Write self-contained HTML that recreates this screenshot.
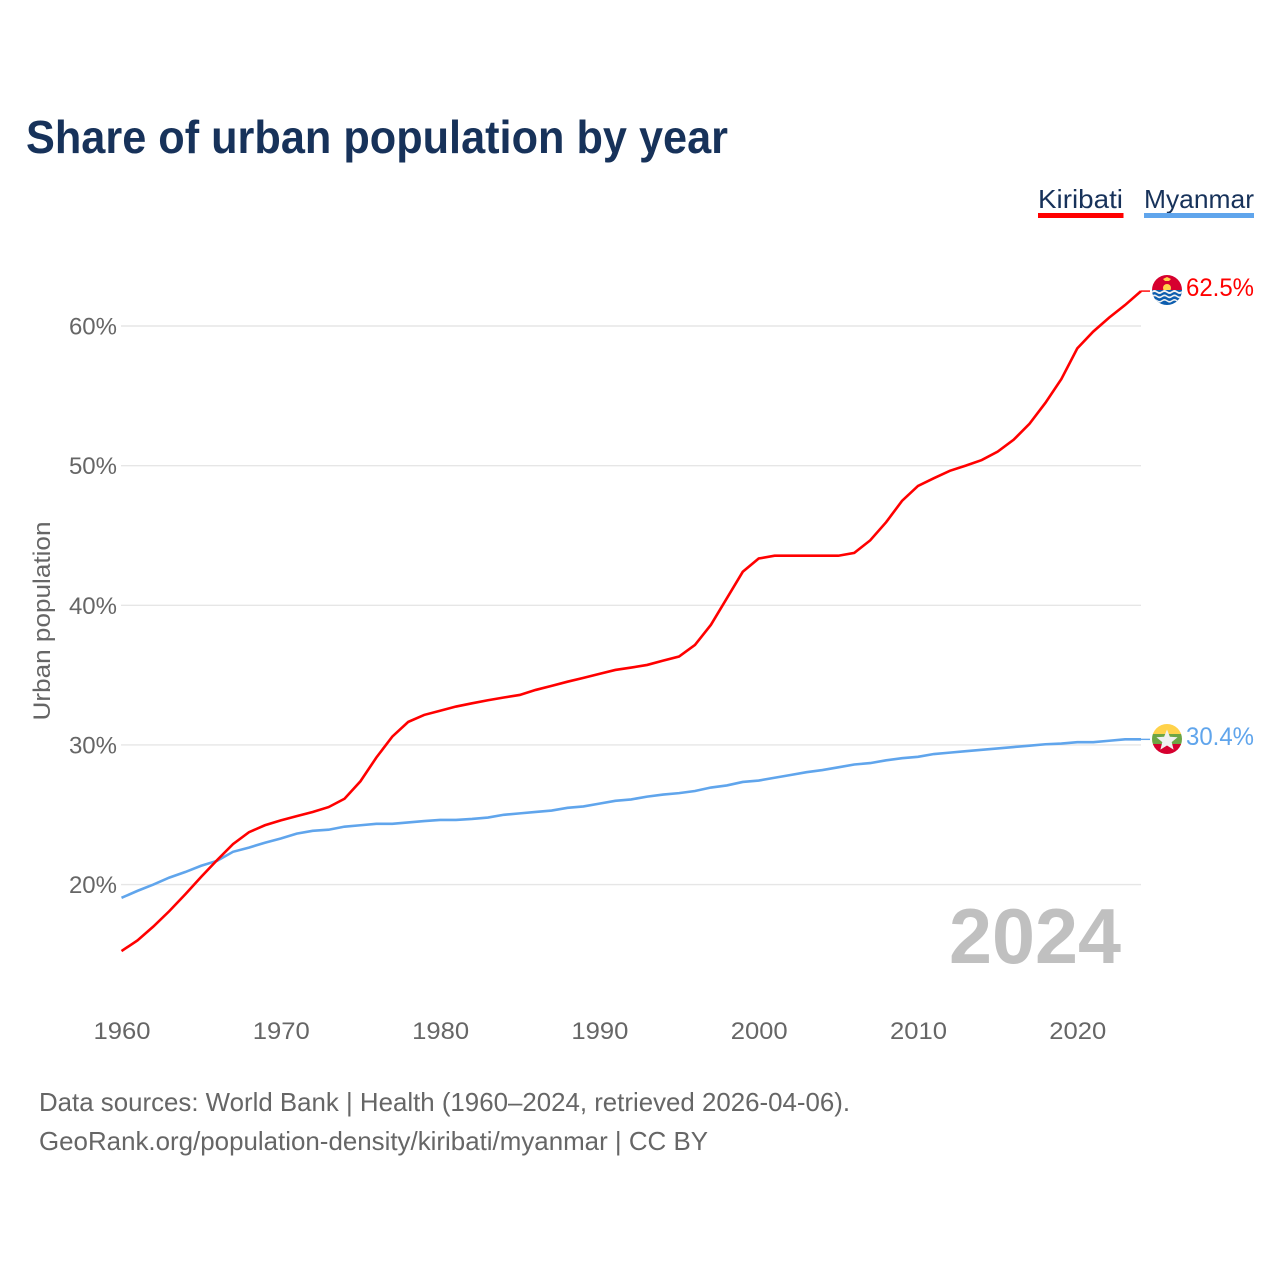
<!DOCTYPE html>
<html lang="en">
<head>
<meta charset="utf-8">
<title>Share of urban population by year</title>
<style>
html,body{margin:0;padding:0;background:#fff;}
svg{display:block;font-family:"Liberation Sans",sans-serif;}
</style>
</head>
<body>
<svg id="chart" xmlns="http://www.w3.org/2000/svg" width="1280" height="1280" viewBox="0 0 1280 1280">
  <defs>
    <clipPath id="clip-kiribati"><circle cx="1167" cy="290" r="15"/></clipPath>
    <clipPath id="clip-myanmar"><circle cx="1167" cy="739" r="15"/></clipPath>
  </defs>
  <rect width="1280" height="1280" fill="#ffffff"/>
  <text x="26" y="153" font-size="46" font-weight="700" fill="#17325a" textLength="702" lengthAdjust="spacingAndGlyphs">Share of urban population by year</text>

  <g>
    <g>
      <text x="1038" y="208" font-size="26" fill="#17325a" textLength="85" lengthAdjust="spacingAndGlyphs">Kiribati</text>
      <rect x="1038" y="213" width="85.5" height="5" fill="#ff0000"/>
    </g>
    <g>
      <text x="1144" y="208" font-size="26" fill="#17325a" textLength="110" lengthAdjust="spacingAndGlyphs">Myanmar</text>
      <rect x="1144" y="213" width="110" height="5" fill="#60a5ec"/>
    </g>
  </g>

  <g id="grid"></g>
  <g id="yticks"></g>
  <g id="xticks"></g>
  <text transform="translate(50 621) rotate(-90)" text-anchor="middle" font-size="24" fill="#666666" textLength="199" lengthAdjust="spacingAndGlyphs">Urban population</text>

  <text x="949" y="963" font-size="78" font-weight="700" fill="#c0c0c0" textLength="172" lengthAdjust="spacingAndGlyphs">2024</text>

  <g id="series"></g>

  <g clip-path="url(#clip-kiribati)">
    <rect x="1152" y="275" width="30" height="15" fill="#d6002f"/>
    <circle cx="1167" cy="288" r="4" fill="#ffd24a"/>
    <path d="M1163 279 l4 -2 l4 2 l-2 2 l-4 0 z" fill="#ffd24a"/>
    <rect x="1152" y="290" width="30" height="15" fill="#0d5eaf"/>
    <path d="M1152 291 q2.5 -2 5 0 t5 0 t5 0 t5 0 t5 0 t5 0 v2 q-2.5 2 -5 0 t-5 0 t-5 0 t-5 0 t-5 0 t-5 0 z" fill="#f2f2f2"/>
    <path d="M1152 295.500 q2.500 -2 5 0 t5 0 t5 0 t5 0 t5 0 t5 0 v1.800 q-2.500 2 -5 0 t-5 0 t-5 0 t-5 0 t-5 0 t-5 0 z" fill="#f2f2f2"/>
    <path d="M1152 300 q2.500 -2 5 0 t5 0 t5 0 t5 0 t5 0 t5 0 v1.600 q-2.500 2 -5 0 t-5 0 t-5 0 t-5 0 t-5 0 t-5 0 z" fill="#f2f2f2"/>
  </g>
  <g clip-path="url(#clip-myanmar)">
    <rect x="1152" y="724" width="30" height="10" fill="#ffd24a"/>
    <rect x="1152" y="734" width="30" height="10" fill="#6da544"/>
    <rect x="1152" y="744" width="30" height="10" fill="#d6002f"/>
    <path d="M1167 729.500 l2.900 7.200 l7.700 .5 l-5.900 4.900 l1.900 7.500 l-6.600 -4.100 l-6.600 4.100 l1.900 -7.500 l-5.900 -4.900 l7.700 -.5 z" fill="#f0f0f0"/>
  </g>

  <g id="endlabels"></g>

  <text x="39" y="1111" font-size="26" fill="#666666" textLength="811" lengthAdjust="spacingAndGlyphs">Data sources: World Bank | Health (1960–2024, retrieved 2026-04-06).</text>
  <text x="39" y="1150" font-size="26" fill="#666666" textLength="669" lengthAdjust="spacingAndGlyphs">GeoRank.org/population-density/kiribati/myanmar | CC BY</text>
</svg>
<script>
const years = [1960,1961,1962,1963,1964,1965,1966,1967,1968,1969,1970,1971,1972,1973,1974,1975,1976,1977,1978,1979,1980,1981,1982,1983,1984,1985,1986,1987,1988,1989,1990,1991,1992,1993,1994,1995,1996,1997,1998,1999,2000,2001,2002,2003,2004,2005,2006,2007,2008,2009,2010,2011,2012,2013,2014,2015,2016,2017,2018,2019,2020,2021,2022,2023,2024];
const kiribati = [15.24,16.0,17.0,18.1,19.3,20.55,21.75,22.9,23.75,24.25,24.6,24.9,25.2,25.55,26.15,27.4,29.1,30.6,31.65,32.15,32.45,32.75,32.98,33.2,33.4,33.58,33.94,34.23,34.53,34.8,35.09,35.37,35.54,35.73,36.04,36.33,37.16,38.6,40.5,42.4,43.35,43.55,43.55,43.55,43.55,43.55,43.75,44.65,45.95,47.48,48.55,49.1,49.63,50.0,50.4,51.0,51.85,53.0,54.5,56.2,58.4,59.6,60.6,61.5,62.5];
const myanmar = [19.05,19.55,20.0,20.5,20.9,21.35,21.7,22.35,22.65,23.0,23.3,23.65,23.85,23.93,24.15,24.25,24.35,24.35,24.45,24.55,24.63,24.63,24.7,24.8,25.0,25.1,25.2,25.3,25.5,25.6,25.8,26.0,26.1,26.3,26.45,26.55,26.7,26.95,27.1,27.35,27.45,27.65,27.85,28.05,28.2,28.4,28.6,28.7,28.9,29.05,29.15,29.35,29.45,29.55,29.65,29.75,29.85,29.95,30.05,30.1,30.2,30.2,30.3,30.4,30.4];
const yTickValues = [20,30,40,50,60];
const yTickLabels = ["20%","30%","40%","50%","60%"];
const xTickValues = [1960,1970,1980,1990,2000,2010,2020];
const xTickLabels = ["1960","1970","1980","1990","2000","2010","2020"];

const NS = "http://www.w3.org/2000/svg";
function xScale(year){ return 121.5 + (year - 1960) * (1141 - 121.5) / 64; }
function yScale(pct){ return 884.6 - (pct - 20) * 13.965; }
function make(tag, parent){
  const el = document.createElementNS(NS, tag);
  parent.appendChild(el);
  return el;
}

const grid = document.getElementById("grid");
const yticks = document.getElementById("yticks");
yTickValues.forEach(function(v, i){
  const line = make("line", grid);
  
  
  line.setAttribute("x1", 121);
  line.setAttribute("x2", 1141);
  line.setAttribute("y1", yScale(v));
  line.setAttribute("y2", yScale(v));
  line.setAttribute("stroke", "#e6e6e6");
  line.setAttribute("stroke-width", "1.4");
  const label = make("text", yticks);
  
  
  label.setAttribute("x", 117);
  label.setAttribute("y", yScale(v) + 8.5);
  label.setAttribute("text-anchor", "end");
  label.setAttribute("font-size", "24");
  label.setAttribute("fill", "#666666");
  label.textContent = yTickLabels[i];
});

const xticks = document.getElementById("xticks");
xTickValues.forEach(function(v, i){
  const label = make("text", xticks);
  
  
  label.setAttribute("x", xScale(v) - 28);
  label.setAttribute("y", 1039);
  label.setAttribute("font-size", "24");
  label.setAttribute("fill", "#666666");
  label.setAttribute("textLength", "57");
  label.setAttribute("lengthAdjust", "spacingAndGlyphs");
  label.textContent = xTickLabels[i];
});

function linePath(values){
  return values.map(function(v, i){
    return (i ? "L" : "M") + xScale(years[i]).toFixed(2) + " " + yScale(v).toFixed(2);
  }).join(" ");
}
function lastOf(values){ return values[values.length - 1]; }

const seriesGroup = document.getElementById("series");
const endGroup = document.getElementById("endlabels");

const myanmarLine = make("path", seriesGroup);


myanmarLine.setAttribute("d", linePath(myanmar));
myanmarLine.setAttribute("fill", "none");
myanmarLine.setAttribute("stroke", "#60a5ec");
myanmarLine.setAttribute("stroke-width", "2.6");

const myanmarLeader = make("line", seriesGroup);


myanmarLeader.setAttribute("x1", xScale(2024));
myanmarLeader.setAttribute("x2", 1150);
myanmarLeader.setAttribute("y1", yScale(lastOf(myanmar)));
myanmarLeader.setAttribute("y2", yScale(lastOf(myanmar)));
myanmarLeader.setAttribute("stroke", "#60a5ec");
myanmarLeader.setAttribute("stroke-width", "1.4");

const kiribatiLine = make("path", seriesGroup);


kiribatiLine.setAttribute("d", linePath(kiribati));
kiribatiLine.setAttribute("fill", "none");
kiribatiLine.setAttribute("stroke", "#ff0000");
kiribatiLine.setAttribute("stroke-width", "2.6");

const kiribatiLeader = make("line", seriesGroup);


kiribatiLeader.setAttribute("x1", xScale(2024));
kiribatiLeader.setAttribute("x2", 1150);
kiribatiLeader.setAttribute("y1", yScale(lastOf(kiribati)));
kiribatiLeader.setAttribute("y2", yScale(lastOf(kiribati)));
kiribatiLeader.setAttribute("stroke", "#ff0000");
kiribatiLeader.setAttribute("stroke-width", "1.4");

const kiribatiEnd = make("text", endGroup);


kiribatiEnd.setAttribute("x", 1186);
kiribatiEnd.setAttribute("y", 296);
kiribatiEnd.setAttribute("font-size", "25");
kiribatiEnd.setAttribute("fill", "#ff0000");
kiribatiEnd.setAttribute("textLength", "68");
kiribatiEnd.setAttribute("lengthAdjust", "spacingAndGlyphs");
kiribatiEnd.textContent = lastOf(kiribati).toFixed(1) + "%";

const myanmarEnd = make("text", endGroup);


myanmarEnd.setAttribute("x", 1186);
myanmarEnd.setAttribute("y", 745);
myanmarEnd.setAttribute("font-size", "25");
myanmarEnd.setAttribute("fill", "#60a5ec");
myanmarEnd.setAttribute("textLength", "68");
myanmarEnd.setAttribute("lengthAdjust", "spacingAndGlyphs");
myanmarEnd.textContent = lastOf(myanmar).toFixed(1) + "%";
</script>
</body>
</html>
